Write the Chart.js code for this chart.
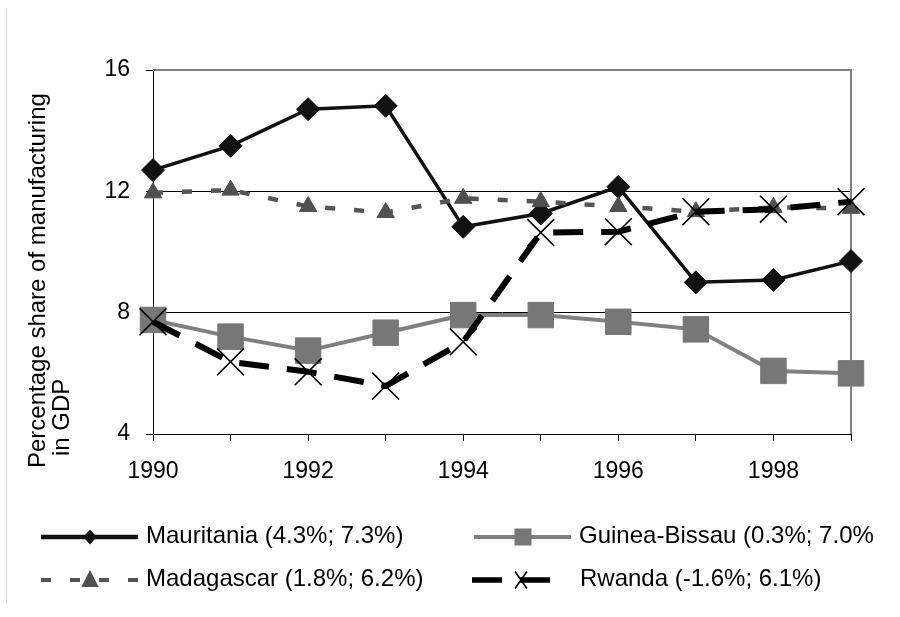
<!DOCTYPE html>
<html>
<head>
<meta charset="utf-8">
<script src="https://cdn.jsdelivr.net/npm/chart.js@4/dist/chart.umd.min.js"></script>
<style>
  html, body { margin: 0; padding: 0; background: #fff; }
  #wrap { width: 900px; height: 617px; position: relative; }
</style>
</head>
<body>
<div id="wrap"><canvas id="c" width="900" height="617"></canvas></div>
<script>
// ---- Data ----
const years = ['1990','1991','1992','1993','1994','1995','1996','1997','1998','1999'];
const mauritania   = [12.70, 13.50, 14.71, 14.82, 10.83, 11.27, 12.15, 9.00, 9.08, 9.70];
const guineaBissau = [7.76, 7.21, 6.75, 7.34, 7.92, 7.92, 7.70, 7.45, 6.08, 6.00];
const madagascar   = [11.95, 12.04, 11.50, 11.30, 11.77, 11.66, 11.50, 11.33, 11.47, 11.44];
const rwanda       = [7.70, 6.38, 6.05, 5.58, 7.04, 10.64, 10.67, 11.33, 11.41, 11.66];
const seriesNames = ['Mauritania (4.3%; 7.3%)', 'Guinea-Bissau (0.3%; 7.0%', 'Madagascar (1.8%; 6.2%)', 'Rwanda (-1.6%; 6.1%)'];
const yTicks = [4, 8, 12, 16];
const yTitleLines = ['Percentage share of manufacturing', 'in GDP'];

const FONT = '"Liberation Sans", Arial, Helvetica, sans-serif';
const FS = 23;      // tick labels
const FS_TXT = 24;  // legend and axis title

Chart.defaults.font.family = FONT;
Chart.defaults.font.size = FS;
Chart.defaults.color = '#000';

const datasets = [
  { label: seriesNames[0], data: mauritania, borderColor: '#111', backgroundColor: '#111', borderWidth: 3.5,
    pointStyle: 'rectRot', pointRadius: 11.5, pointBackgroundColor: '#111', pointBorderColor: '#111', pointBorderWidth: 1, order: 4,
    legendMarker: { style: 'diamond', r: 7.5 } },
  { label: seriesNames[1], data: guineaBissau, borderColor: '#808080', backgroundColor: '#777', borderWidth: 4,
    pointStyle: 'rect', pointRadius: 18, pointBackgroundColor: '#777', pointBorderColor: '#777', pointBorderWidth: 1, order: 3,
    legendMarker: { style: 'square', r: 8.5 } },
  { label: seriesNames[2], data: madagascar, borderColor: '#555', backgroundColor: '#505050', borderWidth: 4.5, borderDash: [10, 19],
    pointStyle: 'triangle', pointRadius: 10, pointBackgroundColor: '#505050', pointBorderColor: '#505050', pointBorderWidth: 1, order: 2,
    legendMarker: { style: 'triangle', r: 10 } },
  { label: seriesNames[3], data: rwanda, borderColor: '#000', backgroundColor: '#000', borderWidth: 6, borderDash: [30, 18],
    pointStyle: 'crossRot', pointRadius: 19, pointBackgroundColor: '#000', pointBorderColor: '#000', pointBorderWidth: 1.6, order: 1,
    legendMarker: { style: 'x', r: 8.5 } }
];

function drawMarker(ctx, m, x, y, color) {
  ctx.save();
  ctx.fillStyle = color; ctx.strokeStyle = color;
  ctx.beginPath();
  if (m.style === 'diamond') {
    ctx.moveTo(x, y - m.r); ctx.lineTo(x + m.r * 0.9, y); ctx.lineTo(x, y + m.r); ctx.lineTo(x - m.r * 0.9, y); ctx.closePath(); ctx.fill();
  } else if (m.style === 'square') {
    ctx.rect(x - m.r, y - m.r, 2 * m.r, 2 * m.r); ctx.fill();
  } else if (m.style === 'triangle') {
    const r = m.r;
    ctx.moveTo(x, y - r); ctx.lineTo(x + r * 0.866, y + r * 0.5 + 2); ctx.lineTo(x - r * 0.866, y + r * 0.5 + 2); ctx.closePath(); ctx.fill();
  } else if (m.style === 'x') {
    ctx.lineWidth = 1.6;
    ctx.moveTo(x - m.r * 0.7, y - m.r); ctx.lineTo(x + m.r * 0.7, y + m.r);
    ctx.moveTo(x + m.r * 0.7, y - m.r); ctx.lineTo(x - m.r * 0.7, y + m.r);
    ctx.stroke();
  }
  ctx.restore();
}

const framePlugin = {
  id: 'frame',
  beforeDraw(chart) {
    const ctx = chart.ctx;
    ctx.save();
    ctx.strokeStyle = '#d9d9d9'; ctx.lineWidth = 1;
    ctx.beginPath(); ctx.moveTo(6.5, 8); ctx.lineTo(6.5, 603); ctx.stroke();
    ctx.restore();
  },
  beforeDatasetsDraw(chart) {
    const ctx = chart.ctx, a = chart.chartArea;
    ctx.save();
    ctx.strokeStyle = '#808080'; ctx.lineWidth = 2;
    ctx.beginPath();
    ctx.moveTo(a.left, a.top); ctx.lineTo(a.right, a.top); ctx.lineTo(a.right, a.bottom);
    ctx.stroke();
    ctx.restore();
  },
  afterDraw(chart) {
    const ctx = chart.ctx;
    // y-axis title
    ctx.save();
    ctx.fillStyle = '#000';
    ctx.font = FS_TXT + 'px ' + FONT;
    ctx.textBaseline = 'middle';
    ctx.textAlign = 'left';
    const titlePos = [{ x: 38, y: 468 }, { x: 62, y: 456 }];
    yTitleLines.forEach((t, i) => {
      ctx.save();
      ctx.translate(titlePos[i].x, titlePos[i].y);
      ctx.rotate(-Math.PI / 2);
      ctx.fillText(t, 0, 0);
      ctx.restore();
    });
    ctx.restore();
    // legend
    const slots = [
      { di: 0, x: 41, y: 537 }, { di: 1, x: 474, y: 537 },
      { di: 2, x: 41, y: 580 }, { di: 3, x: 472, y: 580 }
    ];
    slots.forEach(s => {
      const ds = chart.data.datasets[s.di];
      const len = s.di === 3 ? 86 : 97;
      ctx.save();
      ctx.strokeStyle = ds.borderColor;
      ctx.lineWidth = s.di === 3 ? 5.5 : (s.di === 0 ? 4.5 : 4);
      ctx.setLineDash(ds.borderDash || []);
      ctx.beginPath(); ctx.moveTo(s.x, s.y); ctx.lineTo(s.x + len, s.y); ctx.stroke();
      ctx.setLineDash([]);
      drawMarker(ctx, ds.legendMarker, s.x + 49, s.y, ds.pointBackgroundColor);
      ctx.fillStyle = '#000';
      ctx.font = FS_TXT + 'px ' + FONT;
      ctx.textBaseline = 'middle';
      ctx.textAlign = 'left';
      ctx.fillText(ds.label, s.x + (s.di === 3 ? 108 : 105), s.y - 1);
      ctx.restore();
    });
  }
};

new Chart(document.getElementById('c'), {
  type: 'line',
  data: { labels: years, datasets: datasets },
  options: {
    responsive: false,
    devicePixelRatio: 1,
    animation: false,
    layout: { padding: { left: 0, right: 49, top: 70, bottom: 133 } },
    elements: { line: { tension: 0, fill: false } },
    plugins: { legend: { display: false }, title: { display: false }, tooltip: { enabled: false } },
    scales: {
      x: {
        type: 'category',
        offset: false,
        afterFit(scale) { scale.height = 50; },
        grid: { display: true, drawOnChartArea: false, drawTicks: true, tickLength: 7, color: '#000', lineWidth: 1 },
        border: { display: true, color: '#000', width: 1 },
        ticks: {
          autoSkip: false, maxRotation: 0, minRotation: 0, padding: 17,
          font: { size: FS }, color: '#000',
          callback(v, i) { return i % 2 === 0 ? years[i] : ''; }
        }
      },
      y: {
        min: 4, max: 16,
        afterFit(scale) { scale.width = 153; },
        afterBuildTicks(scale) { scale.ticks = yTicks.map(v => ({ value: v })); },
        grid: {
          drawTicks: true, tickLength: 7, lineWidth: 1, tickColor: '#000',
          color(ctx) { return ctx.tick && ctx.tick.value === 16 ? 'rgba(0,0,0,0)' : '#000'; }
        },
        border: { display: true, color: '#000', width: 1 },
        ticks: { padding: 16, font: { size: FS }, color: '#000' }
      }
    }
  },
  plugins: [framePlugin]
});
</script>
</body>
</html>
